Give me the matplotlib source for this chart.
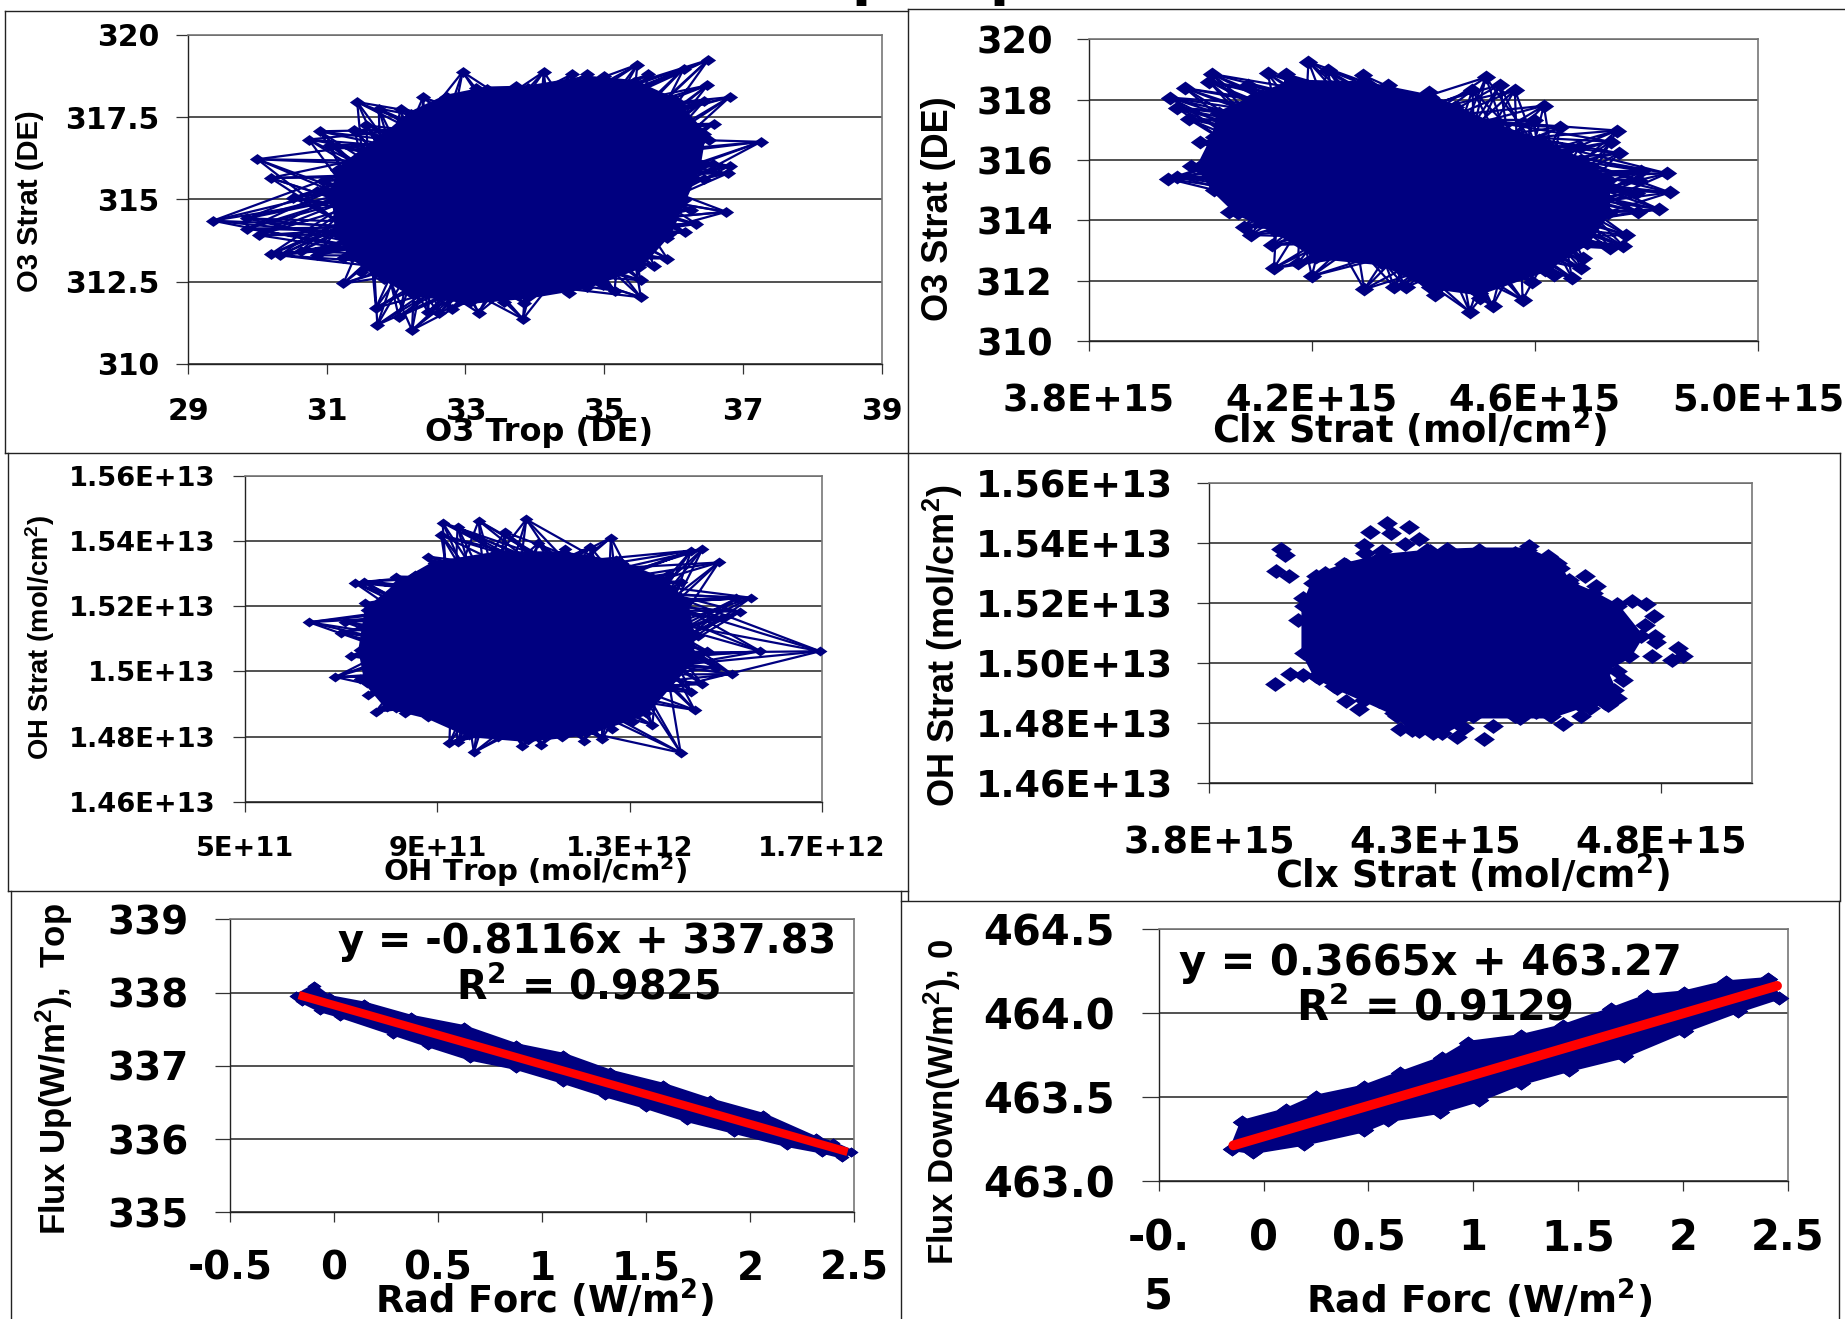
import numpy as np
import matplotlib
matplotlib.use('Agg')
import matplotlib.pyplot as plt
from matplotlib.lines import Line2D

plt.rcParams['font.family'] = 'DejaVu Sans'
plt.rcParams['font.weight'] = 'bold'
plt.rcParams['mathtext.default'] = 'regular'

W, H = 1845, 1319
NAVY = '#000080'

# O3 Trop vs O3 Strat
a_x = [29.36,29.85,29.85,30.02,30.19,30.33,30.63,30.86,31.24,31.24,31.49,31.83,31.71,31.73,32.04,32.23,32.46,32.62,32.80,33.19,33.56,33.84,33.83,34.16,34.50,34.98,35.15,35.53,35.53,35.72,35.91,35.91,36.16,36.33,36.26,36.76,36.44,36.78,36.81,36.57,37.26,36.51,36.58,36.81,36.44,36.49,36.50,36.15,35.64,35.48,35.00,34.75,34.53,34.13,33.73,33.16,32.96,32.74,32.39,32.07,31.75,31.44,31.57,31.40,31.05,30.90,30.74,30.00,30.19,30.95,30.86,30.52]
a_y = [314.35,314.42,314.11,313.91,313.33,313.30,313.43,313.30,313.23,312.44,312.80,312.59,311.70,311.18,311.43,311.02,311.58,311.53,311.65,311.55,311.88,311.85,311.36,312.34,312.16,312.39,312.22,312.02,312.54,312.98,313.20,313.81,314.01,314.25,314.69,314.62,315.63,315.79,316.02,316.09,316.75,316.82,317.30,318.11,317.99,318.47,319.24,318.98,318.80,319.10,318.74,318.80,318.80,318.88,318.44,318.40,318.88,318.10,318.11,317.76,317.76,317.96,317.25,317.12,316.65,317.07,316.82,316.22,315.65,315.56,315.26,315.05]
a_core_x = [31.11,31.15,31.53,31.87,32.21,32.72,33.31,33.90,34.75,35.43,36.02,36.44,36.36,36.15,35.94,35.51,34.75,33.90,33.06,32.21,31.70,31.36,31.15]
a_core_y = [314.97,315.89,316.49,317.00,317.61,318.12,318.37,318.40,318.70,318.57,318.01,317.00,315.99,314.97,313.96,312.95,312.34,312.04,311.88,312.14,312.75,313.25,313.96]

# Clx Strat vs O3 Strat (x in 1E+15)
b_x = [3.943,3.959,3.983,3.999,3.980,3.959,3.945,3.973,4.021,4.016,4.086,4.121,4.153,4.194,4.229,4.291,4.337,4.410,4.488,4.512,4.537,4.564,4.616,4.598,4.645,4.747,4.680,4.736,4.751,4.791,4.837,4.785,4.842,4.782,4.823,4.785,4.764,4.758,4.734,4.686,4.682,4.666,4.634,4.594,4.578,4.524,4.483,4.501,4.420,4.369,4.348,4.294,4.200,4.132,4.175,4.129,4.091,4.078,4.051,4.034]
b_y = [315.38,315.45,315.82,316.61,317.35,317.72,318.07,318.38,318.85,318.60,318.49,318.87,318.85,319.26,318.98,318.82,318.49,318.27,318.32,318.74,318.49,318.32,317.80,317.33,317.09,316.98,316.45,316.61,316.23,315.65,315.56,315.34,314.93,314.90,314.37,314.29,313.52,313.16,313.08,312.75,312.42,312.11,312.20,311.98,311.37,311.17,310.98,311.42,311.53,311.79,311.79,311.72,312.16,312.42,312.58,313.19,313.52,313.80,314.29,315.01]
b_core_x = [3.997,4.024,4.034,4.099,4.164,4.294,4.412,4.456,4.531,4.607,4.682,4.731,4.731,4.693,4.618,4.499,4.412,4.326,4.207,4.132,4.067,4.024]
b_core_y = [315.78,316.78,317.55,318.10,318.60,318.54,318.10,317.77,317.11,316.67,316.00,315.34,314.24,313.25,312.36,311.59,311.81,312.58,312.80,313.69,314.24,315.01]

# OH Trop (x in 1E+12) vs OH Strat (y in 1E+13)
c_x = [0.633,0.708,0.700,0.688,0.720,0.740,0.755,0.772,0.814,0.832,0.925,0.942,0.976,1.027,1.076,1.116,1.159,1.206,1.242,1.263,1.304,1.347,1.406,1.435,1.428,1.451,1.512,1.479,1.572,1.696,1.461,1.442,1.491,1.530,1.552,1.522,1.406,1.485,1.451,1.428,1.381,1.345,1.272,1.261,1.218,1.165,1.110,1.085,1.040,0.986,0.942,0.911,0.908,0.881,0.854,0.813,0.747,0.728,0.749]
c_y = [1.5151,1.5151,1.5119,1.4983,1.5047,1.4976,1.4928,1.4877,1.4887,1.4872,1.4780,1.4785,1.4752,1.4798,1.4772,1.4775,1.4800,1.4788,1.4794,1.4824,1.4845,1.4836,1.4751,1.4882,1.4938,1.4961,1.4992,1.5012,1.5062,1.5062,1.5063,1.5109,1.5165,1.5183,1.5226,1.5224,1.5275,1.5334,1.5374,1.5370,1.5299,1.5291,1.5342,1.5410,1.5382,1.5374,1.5393,1.5466,1.5428,1.5462,1.5442,1.5456,1.5418,1.5352,1.5296,1.5291,1.5275,1.5272,1.5209]
c_core_x = [0.740,0.753,0.820,0.893,1.027,1.162,1.284,1.369,1.418,1.430,1.430,1.381,1.333,1.210,1.088,0.966,0.881,0.795,0.753]
c_core_y = [1.5066,1.5188,1.5270,1.5331,1.5362,1.5362,1.5331,1.5280,1.5209,1.5117,1.5035,1.4953,1.4872,1.4810,1.4790,1.4805,1.4861,1.4892,1.4964]

# Clx Strat (x in 1E+15) vs OH Strat (y in 1E+13)
d_x = [3.947,3.980,4.007,4.043,3.949,3.976,3.959,3.969,3.996,4.016,4.007,4.029,4.056,4.099,4.143,4.145,4.156,4.193,4.203,4.243,4.265,4.233,4.183,4.283,4.327,4.400,4.476,4.507,4.549,4.576,4.632,4.596,4.656,4.703,4.736,4.767,4.785,4.763,4.787,4.789,4.836,4.847,4.823,4.780,4.703,4.716,4.703,4.683,4.643,4.623,4.583,4.523,4.487,4.427,4.409,4.349,4.363,4.296,4.265,4.223,4.216,4.132,4.103,4.176,4.083,4.043]
d_y = [1.4930,1.4964,1.4961,1.4956,1.5306,1.5289,1.5381,1.5359,1.5142,1.5033,1.5217,1.5267,1.5300,1.5331,1.5394,1.5367,1.5437,1.5467,1.5433,1.5453,1.5414,1.5398,1.5372,1.5378,1.5381,1.5367,1.5367,1.5391,1.5356,1.5317,1.5291,1.5276,1.5256,1.5198,1.5206,1.5198,1.5158,1.5128,1.5091,1.5069,1.5050,1.5022,1.5011,1.5022,1.4972,1.4942,1.4883,1.4861,1.4850,1.4822,1.4798,1.4836,1.4817,1.4791,1.4747,1.4753,1.4783,1.4767,1.4772,1.4780,1.4822,1.4847,1.4872,1.4872,1.4917,1.4950]
d_core_x = [4.009,4.009,4.036,4.103,4.183,4.289,4.396,4.503,4.569,4.596,4.649,4.703,4.756,4.729,4.676,4.696,4.676,4.623,4.556,4.476,4.383,4.316,4.249,4.209,4.143,4.076,4.036]
d_core_y = [1.5033,1.5189,1.5289,1.5328,1.5356,1.5372,1.5378,1.5378,1.5333,1.5267,1.5233,1.5189,1.5089,1.5022,1.4978,1.4911,1.4867,1.4856,1.4822,1.4822,1.4822,1.4767,1.4778,1.4833,1.4878,1.4922,1.4956]

# Rad Forc vs Flux Up, edge of the band
e_x = [-0.181,-0.096,-0.026,0.144,0.369,0.623,0.877,1.103,1.329,1.583,1.809,2.063,2.317,2.401,2.486,2.444,2.345,2.176,1.922,1.696,1.498,1.301,1.103,0.877,0.652,0.454,0.285,0.031,-0.068,-0.153]
e_y = [337.95,338.09,337.94,337.85,337.67,337.53,337.28,337.15,336.92,336.74,336.53,336.33,336.01,335.94,335.83,335.76,335.83,335.92,336.10,336.26,336.44,336.60,336.78,336.97,337.10,337.28,337.44,337.68,337.76,337.88]
e_trend_x = [-0.15, 2.45]
e_trend_y = [337.95, 335.84]

# Rad Forc vs Flux Down, edge of the band
f_x = [-0.152,-0.101,0.106,0.250,0.480,0.652,0.853,0.974,1.227,1.428,1.658,1.830,2.003,2.204,2.405,2.457,2.261,2.003,1.716,1.457,1.227,1.026,0.839,0.595,0.480,0.193,-0.052]
f_y = [463.19,463.35,463.42,463.50,463.56,463.64,463.73,463.82,463.86,463.92,464.02,464.10,464.12,464.18,464.20,464.09,464.01,463.89,463.74,463.66,463.58,463.48,463.41,463.36,463.30,463.22,463.17]
f_trend_x = [-0.144, 2.448]
f_trend_y = [463.21, 464.16]

a_xticks = [29, 31, 33, 35, 37, 39]
a_yticks = [310, 312.5, 315, 317.5, 320]
a_yticklabels = ['310', '312.5', '315', '317.5', '320']
b_xticks = [3.8, 4.2, 4.6, 5.0]
b_xticklabels = ['3.8E+15', '4.2E+15', '4.6E+15', '5.0E+15']
b_yticks = [310, 312, 314, 316, 318, 320]
c_xticks = [0.5, 0.9, 1.3, 1.7]
c_xticklabels = ['5E+11', '9E+11', '1.3E+12', '1.7E+12']
c_yticks = [1.46, 1.48, 1.50, 1.52, 1.54, 1.56]
c_yticklabels = ['1.46E+13', '1.48E+13', '1.5E+13', '1.52E+13', '1.54E+13', '1.56E+13']
d_xticks = [3.8, 4.3, 4.8]
d_xticklabels = ['3.8E+15', '4.3E+15', '4.8E+15']
d_yticklabels = ['1.46E+13', '1.48E+13', '1.50E+13', '1.52E+13', '1.54E+13', '1.56E+13']
e_xticks = [-0.5, 0, 0.5, 1, 1.5, 2, 2.5]
e_xticklabels = ['-0.5', '0', '0.5', '1', '1.5', '2', '2.5']
e_yticks = [335, 336, 337, 338, 339]
f_xticklabels = ['-0.\n5', '0', '0.5', '1', '1.5', '2', '2.5']
f_yticks = [463.0, 463.5, 464.0, 464.5]
f_yticklabels = ['463.0', '463.5', '464.0', '464.5']

fig = plt.figure(figsize=(W / 100, H / 100), dpi=100, facecolor='white')


def fx(x):
    return x / W


def fy(y):
    return 1 - y / H


def panel(box, xlim, ylim, xticks, xlabs, yticks, ylabs, fs, xpad, ypad, ylen=12):
    l, t, r, b = box
    ax = fig.add_axes([fx(l), fy(b), (r - l) / W, (b - t) / H])
    ax.set_xlim(xlim)
    ax.set_ylim(ylim)
    ax.set_xticks(xticks)
    ax.set_xticklabels(xlabs, fontsize=fs, linespacing=1.5)
    ax.set_yticks(yticks)
    ax.set_yticklabels(ylabs, fontsize=fs)
    ax.tick_params(axis='x', length=7.5, width=0.9, pad=xpad * 0.72, color='#333333')
    ax.tick_params(axis='y', length=ylen * 0.72, width=0.9, pad=ypad * 0.72, color='#333333')
    ax.grid(axis='y', color='#222222', lw=1.1)
    ax.set_axisbelow(True)
    for side in ['top', 'right']:
        ax.spines[side].set_color('#777777')
        ax.spines[side].set_linewidth(1.2)
    for side in ['left', 'bottom']:
        ax.spines[side].set_color('#222222')
        ax.spines[side].set_linewidth(1.0)
    ax.margins(0)
    return ax


def diamond(wide=1.4):
    return [(-wide, 0), (0, 1), (wide, 0), (0, -1), (-wide, 0)]


def blob(ax, xs, ys, core_x, core_y, ms, lines=True, lw=1.6):
    xs = np.array(xs)
    ys = np.array(ys)
    ax.fill(core_x, core_y, color=NAVY, lw=3, zorder=3, clip_on=False)
    ax.plot(core_x, core_y, ls='none', marker=diamond(), ms=ms, color=NAVY, mew=0, zorder=3, clip_on=False)
    if lines:
        # visit the outer points across the cloud, like the tangled original series
        n = len(xs)
        for frac in [0.39, 0.44, 0.33]:
            k = int(n * frac)
            while np.gcd(n, k) != 1:
                k += 1
            order = (np.arange(n + 1) * k) % n
            ax.plot(xs[order], ys[order], color=NAVY, lw=lw, zorder=3, clip_on=False)
    ax.plot(xs, ys, ls='none', marker=diamond(), ms=ms, color=NAVY, mew=0, zorder=4, clip_on=False)


def label(x, y, s, size, rot=0, family=None):
    fam = family if family else 'DejaVu Sans'
    fig.text(fx(x), fy(y), s, fontsize=size, rotation=rot, ha='center', va='center',
             family=fam, fontweight='bold', color='black', zorder=10)


NARROW = ['Liberation Sans Narrow', 'Liberation Sans']

# top row
ax = panel((188, 35, 881.5, 363.7), (29, 39), (310, 320), a_xticks, a_xticks, a_yticks, a_yticklabels, 21.5, 23, 17)
blob(ax, a_x, a_y, a_core_x, a_core_y, 11)
label(539, 432, 'O3 Trop (DE)', 23)
label(30.5, 201, 'O3 Strat (DE)', 21, 90, NARROW)

ax = panel((1088.7, 39.3, 1758, 341.3), (3.8, 5.0), (310, 320), b_xticks, b_xticklabels, b_yticks, b_yticks, 26.5, 31, 24)
blob(ax, b_x, b_y, b_core_x, b_core_y, 14)
label(1409, 430, 'Clx Strat (mol/cm$^{2}$)', 26.5)
label(939, 209, 'O3 Strat (DE)', 26, 90, NARROW)

# middle row
ax = panel((245, 475.7, 822, 802), (0.5, 1.7), (1.46, 1.56), c_xticks, c_xticklabels, c_yticks, c_yticklabels, 19.6, 24, 18)
blob(ax, c_x, c_y, c_core_x, c_core_y, 10)
label(535, 871, 'OH Trop (mol/cm$^{2}$)', 21)
label(40, 637, 'OH Strat (mol/cm$^{2}$)', 19.7, 90, NARROW)

ax = panel((1209, 483, 1751.7, 783), (3.8, 5.0), (1.46, 1.56), d_xticks, d_xticklabels, c_yticks, d_yticklabels, 26.4, 31, 24)
blob(ax, d_x, d_y, d_core_x, d_core_y, 15, lines=False)
label(1472, 875, 'Clx Strat (mol/cm$^{2}$)', 26.5)
label(943, 646, 'OH Strat (mol/cm$^{2}$)', 26, 90, NARROW)

# bottom row
ax = panel((230, 919.3, 854, 1212.3), (-0.5, 2.5), (335, 339), e_xticks, e_xticklabels, e_yticks, e_yticks, 28, 27, 26, 15)
blob(ax, e_x, e_y, e_x, e_y, 10, lines=False)
ax.plot(e_trend_x, e_trend_y, color='#ff0000', lw=6, zorder=5, clip_on=False)
label(545, 1300, 'Rad Forc (W/m$^{2}$)', 26.5)
label(54, 1069, 'Flux Up(W/m$^{2}$),  Top', 25, 90, NARROW)
label(587, 942, 'y = -0.8116x + 337.83', 28.7)
label(588, 988, 'R$^{2}$ = 0.9825', 28.5)

ax = panel((1158.6, 928.7, 1788, 1180.7), (-0.5, 2.5), (463, 464.5), e_xticks, f_xticklabels, f_yticks, f_yticklabels, 30, 26, 27, 17)
blob(ax, f_x, f_y, f_x, f_y, 14, lines=False)
ax.plot(f_trend_x, f_trend_y, color='#ff0000', lw=7, zorder=5, clip_on=False, solid_capstyle='round')
label(1479, 1300, 'Rad Forc (W/m$^{2}$)', 27)
label(942, 1102, 'Flux Down(W/m$^{2}$), 0', 25, 90, NARROW)
label(1430, 963, 'y = 0.3665x + 463.27', 30)
label(1434, 1008, 'R$^{2}$ = 0.9129', 30)

# frames around the pasted charts
frames = [
    ((5, 10.7), (908, 10.7)), ((5, 10.7), (5, 453)), ((5, 453), (908, 453)),
    ((908, 9), (1845, 9)), ((908, 9), (908, 900)), ((908, 453), (1840, 453)),
    ((7.6, 453), (7.6, 891)), ((7.6, 891), (908, 891)),
    ((1840, 453), (1840, 900)), ((901, 901), (1840, 901)),
    ((10.6, 891), (10.6, 1319)), ((901, 891), (901, 1319)), ((1839, 901), (1839, 1319)),
]
for p0, p1 in frames:
    fig.add_artist(Line2D([fx(p0[0]), fx(p1[0])], [fy(p0[1]), fy(p1[1])], color='#222222', lw=1.0))

# what is left of the cropped title
fig.text(fx(851), fy(-5.5), 'p', fontsize=40, fontweight='bold', ha='left', va='baseline')
fig.text(fx(989), fy(-5.5), 'p', fontsize=40, fontweight='bold', ha='left', va='baseline')

fig.savefig('out.png', dpi=100, facecolor='white')
